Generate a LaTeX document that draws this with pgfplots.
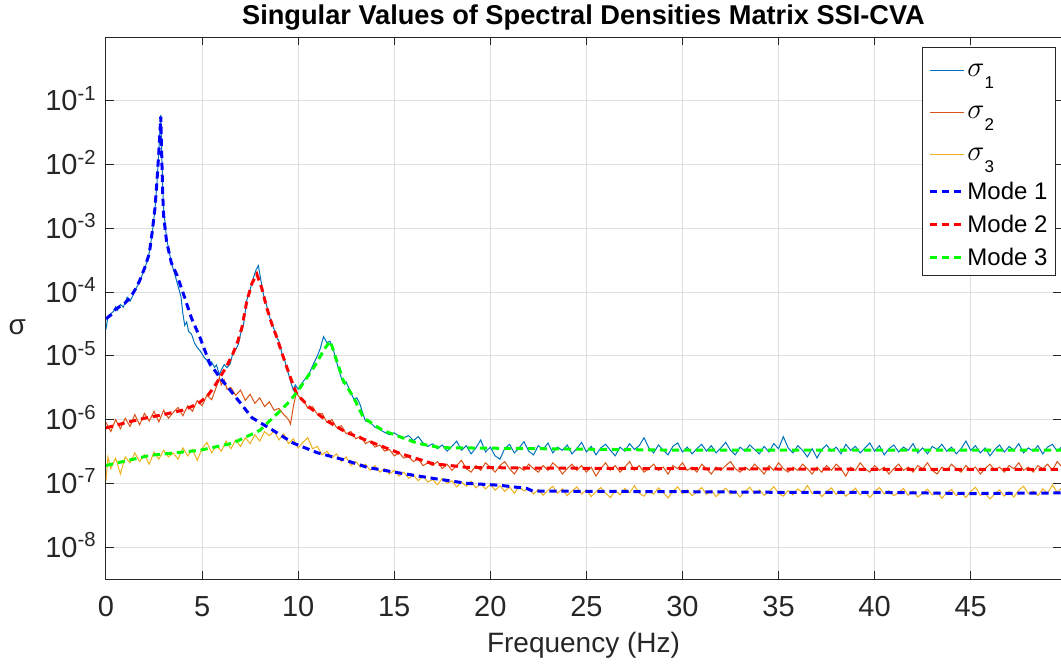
\documentclass[border=0pt]{standalone}
\usepackage{fontspec}
\setmainfont{Liberation Sans}
\usepackage{pgfplots}
\pgfplotsset{compat=1.18}
\usepackage{pgfplotstable}
\definecolor{mblue}{rgb}{0,0.447,0.741}
\definecolor{morange}{rgb}{0.85,0.325,0.098}
\definecolor{myellow}{rgb}{0.929,0.694,0.125}
\definecolor{axgray}{rgb}{0.15,0.15,0.15}
\definecolor{gridgray}{rgb}{0.875,0.875,0.875}
\newcommand{\sigent}[1]{\rule[-7.5pt]{0pt}{21pt}{\fontsize{14.5}{14.5}\selectfont$\sigma$}\raisebox{-6.2pt}{\fontsize{8.5}{10}\selectfont #1}}
\newcommand{\modeent}[1]{\rule[-4.25pt]{0pt}{16.5pt}Mode #1}

\pgfplotstableread{
f v
0 2.6e-5
0.1 4.2e-5
0.25 4.6e-5
0.4 5.0e-5
0.5 5.9e-5
0.6 5.2e-5
0.75 6.4e-5
0.9 5.8e-5
1.0 6.9e-5
1.1 8.3e-5
1.25 7.2e-5
1.4 8.8e-5
1.5 1.05e-4
1.75 1.45e-4
2.0 2.3e-4
2.2 3.4e-4
2.4 8.0e-4
2.55 2.0e-3
2.65 5.0e-3
2.75 1.6e-2
2.85 6.0e-2
2.95 4.5e-3
3.0 2.0e-3
3.15 7.0e-4
3.4 2.9e-4
3.65 1.6e-4
3.9 8.5e-5
4.0 4.6e-5
4.1 3.0e-5
4.2 3.4e-5
4.3 2.4e-5
4.45 2.2e-5
4.6 1.6e-5
4.75 1.35e-5
4.9 1.2e-5
5.1 9.5e-6
5.25 8.5e-6
5.4 7.0e-6
5.5 8.0e-6
5.65 6.6e-6
5.75 7.2e-6
5.9 5.0e-6
6.0 6.0e-6
6.15 7.3e-6
6.3 6.5e-6
6.46 7.5e-6
6.6 1.1e-5
6.75 1.25e-5
6.9 1.55e-5
7.0 2.2e-5
7.15 3.0e-5
7.33 7.5e-5
7.5 1.1e-4
7.65 1.6e-4
7.8 2.2e-4
7.93 2.6e-4
8.05 1.6e-4
8.2 9.0e-5
8.37 6.0e-5
8.5 4.2e-5
8.63 3.2e-5
8.75 2.6e-5
8.9 1.9e-5
9.0 1.7e-5
9.15 1.1e-5
9.3 8.5e-6
9.4 6.5e-6
9.5 5.2e-6
9.6 4.0e-6
9.75 2.9e-6
9.85 3.5e-6
10.0 3.0e-6
10.1 3.4e-6
10.25 3.9e-6
10.4 4.5e-6
10.6 5.5e-6
10.8 7.5e-6
11.0 1.0e-5
11.15 1.3e-5
11.32 2.0e-5
11.5 1.6e-5
11.65 1.7e-5
11.8 1.35e-5
12.0 8.0e-6
12.2 5.0e-6
12.35 3.7e-6
12.5 3.9e-6
12.7 2.8e-6
12.9 2.1e-6
13.05 2.2e-6
13.2 1.8e-6
13.35 1.3e-6
13.5 9.5e-7
13.75 9.0e-7
14.0 7.6e-7
14.25 7.0e-7
14.5 6.3e-7
14.75 5.8e-7
15.0 6.2e-7
15.25 5.5e-7
15.5 5.2e-7
15.75 5.6e-7
16.0 4.7e-7
16.25 5.4e-7
16.5 4.3e-7
16.75 3.8e-7
17.0 4.2e-7
}\sone

\pgfplotstableread{
f v
0 9.0e-7
0.25 6.5e-7
0.5 1.0e-6
0.75 7.2e-7
1.0 1.05e-6
1.25 7.8e-7
1.5 1.2e-6
1.75 8.3e-7
2.0 1.25e-6
2.25 9.5e-7
2.5 1.35e-6
2.75 9.2e-7
3.0 1.4e-6
3.25 1.05e-6
3.5 1.3e-6
3.75 1.55e-6
4.0 1.15e-6
4.25 1.65e-6
4.5 1.35e-6
4.75 2.0e-6
5.0 1.65e-6
5.25 2.4e-6
5.5 2.05e-6
5.75 3.3e-6
5.9 4.6e-6
6.0 3.5e-6
6.15 4.2e-6
6.3 3.0e-6
6.5 3.2e-6
6.75 2.4e-6
7.0 2.9e-6
7.25 2.0e-6
7.5 2.5e-6
7.75 1.8e-6
8.0 2.2e-6
8.25 1.6e-6
8.5 1.9e-6
8.75 1.4e-6
9.0 1.5e-6
9.25 1.2e-6
9.5 1.0e-6
9.6 8.5e-7
9.75 1.6e-6
9.9 2.6e-6
10.1 2.2e-6
10.3 2.0e-6
10.5 1.5e-6
10.75 1.6e-6
11.0 1.2e-6
11.25 1.25e-6
11.5 9.0e-7
11.75 1.0e-6
12.0 7.5e-7
12.25 8.0e-7
12.5 6.0e-7
12.75 6.5e-7
13.0 5.0e-7
13.25 5.5e-7
13.5 4.2e-7
13.75 4.6e-7
14.0 3.7e-7
14.25 4.0e-7
14.5 3.2e-7
14.75 3.4e-7
15.0 2.7e-7
15.25 3.0e-7
15.5 2.5e-7
15.75 2.6e-7
16.0 2.2e-7
16.25 2.4e-7
16.5 1.9e-7
16.75 2.1e-7
17.0 1.9e-7
}\stwo

\pgfplotstableread{
f v
0 1.1e-7
0.1 2.6e-7
0.25 1.7e-7
0.5 2.5e-7
0.75 1.4e-7
1.0 2.6e-7
1.25 2.1e-7
1.5 3.0e-7
1.75 2.2e-7
2.0 2.8e-7
2.25 2.0e-7
2.5 3.1e-7
2.75 2.4e-7
3.0 3.3e-7
3.25 2.6e-7
3.5 3.0e-7
3.75 2.4e-7
4.0 3.6e-7
4.25 2.7e-7
4.5 3.4e-7
4.75 2.3e-7
5.0 3.5e-7
5.25 4.4e-7
5.5 3.0e-7
5.75 3.9e-7
6.0 3.2e-7
6.25 4.6e-7
6.5 3.5e-7
6.75 4.8e-7
7.0 3.8e-7
7.25 5.2e-7
7.5 4.2e-7
7.75 5.8e-7
8.0 4.6e-7
8.25 6.5e-7
8.5 5.6e-7
8.75 6.6e-7
9.0 4.8e-7
9.25 6.0e-7
9.5 4.2e-7
9.75 5.0e-7
10.0 3.6e-7
10.25 4.4e-7
10.5 5.2e-7
10.75 3.5e-7
11.0 3.8e-7
11.25 2.8e-7
11.5 3.2e-7
11.75 2.5e-7
12.0 2.9e-7
12.25 2.2e-7
12.5 2.6e-7
12.75 1.9e-7
13.0 2.2e-7
13.25 1.8e-7
13.5 2.0e-7
13.75 1.6e-7
14.0 1.9e-7
14.25 1.5e-7
14.5 1.7e-7
14.75 1.4e-7
15.0 1.6e-7
15.25 1.3e-7
15.5 1.5e-7
15.75 1.2e-7
16.0 1.35e-7
16.25 1.1e-7
16.5 1.3e-7
16.75 1.05e-7
17.0 1.15e-7
}\sthree

\pgfplotstableread{
f s1 s2 s3
17.0 4.2e-7 1.9e-7 1.15e-7
17.25 3.5e-7 2.2e-7 9.5e-8
17.5 4.0e-7 1.7e-7 1.2e-7
17.75 3.2e-7 2.0e-7 1.0e-7
18.0 3.8e-7 1.6e-7 1.1e-7
18.25 4.6e-7 1.9e-7 8.8e-8
18.5 3.3e-7 2.3e-7 1.05e-7
18.75 3.9e-7 1.7e-7 9.0e-8
19.0 2.9e-7 1.5e-7 1.08e-7
19.25 3.6e-7 1.9e-7 8.5e-8
19.5 4.8e-7 1.6e-7 9.8e-8
19.75 3.1e-7 2.1e-7 8.2e-8
20.0 3.7e-7 1.8e-7 9.6e-8
20.25 2.7e-7 1.5e-7 7.8e-8
20.5 2.4e-7 1.9e-7 9.2e-8
20.75 3.5e-7 2.2e-7 7.5e-8
21.0 4.1e-7 1.7e-7 8.8e-8
21.25 3.0e-7 1.4e-7 7.0e-8
21.5 3.6e-7 1.8e-7 9.0e-8
21.75 4.5e-7 1.6e-7 7.6e-8
22.0 3.2e-7 2.0e-7 8.4e-8
22.25 2.8e-7 1.7e-7 6.8e-8
22.5 3.9e-7 1.5e-7 8.0e-8
22.75 3.4e-7 1.9e-7 6.5e-8
23.0 4.3e-7 1.6e-7 7.8e-8
23.25 3.0e-7 2.1e-7 9.0e-8
23.5 3.7e-7 1.8e-7 7.0e-8
23.75 3.3e-7 1.4e-7 8.2e-8
24.0 4.0e-7 1.7e-7 6.4e-8
24.25 2.9e-7 2.0e-7 7.6e-8
24.5 3.5e-7 1.6e-7 8.8e-8
24.75 4.4e-7 1.9e-7 6.8e-8
25.0 3.1e-7 1.5e-7 7.9e-8
25.25 3.8e-7 1.8e-7 6.2e-8
25.5 2.8e-7 1.3e-7 7.4e-8
25.75 3.6e-7 1.7e-7 8.6e-8
26.0 4.1e-7 2.1e-7 7.0e-8
26.25 3.3e-7 1.6e-7 6.0e-8
26.5 2.7e-7 1.9e-7 7.8e-8
26.75 3.7e-7 1.5e-7 6.6e-8
27.0 3.2e-7 1.8e-7 8.3e-8
27.25 4.2e-7 2.2e-7 7.1e-8
27.5 3.4e-7 1.6e-7 9.2e-8
27.75 3.9e-7 1.9e-7 7.0e-8
28.0 5.2e-7 1.5e-7 6.3e-8
28.25 3.6e-7 1.7e-7 7.7e-8
28.5 3.0e-7 2.0e-7 6.8e-8
28.75 4.0e-7 1.6e-7 8.5e-8
29.0 3.3e-7 1.8e-7 7.2e-8
29.25 2.8e-7 1.4e-7 5.9e-8
29.5 3.8e-7 1.9e-7 7.6e-8
29.75 4.3e-7 1.7e-7 8.8e-8
30.0 3.1e-7 2.1e-7 6.9e-8
30.25 3.7e-7 1.6e-7 7.9e-8
30.5 2.9e-7 1.8e-7 6.4e-8
30.75 3.5e-7 1.5e-7 7.4e-8
31.0 4.1e-7 2.0e-7 8.6e-8
31.25 3.2e-7 1.7e-7 6.7e-8
31.5 3.9e-7 1.4e-7 7.8e-8
31.75 3.0e-7 1.8e-7 6.2e-8
32.0 3.6e-7 1.6e-7 7.3e-8
32.25 4.4e-7 1.9e-7 8.4e-8
32.5 3.3e-7 2.2e-7 6.8e-8
32.75 2.8e-7 1.7e-7 7.6e-8
33.0 3.7e-7 1.5e-7 6.1e-8
33.25 3.2e-7 1.8e-7 7.5e-8
33.5 4.0e-7 1.6e-7 8.7e-8
33.75 3.4e-7 2.0e-7 6.9e-8
34.0 2.9e-7 1.7e-7 7.9e-8
34.25 3.8e-7 1.4e-7 6.5e-8
34.5 3.1e-7 1.9e-7 7.3e-8
34.75 4.2e-7 1.6e-7 8.9e-8
35.0 3.5e-7 2.1e-7 7.0e-8
35.25 5.4e-7 1.7e-7 6.3e-8
35.5 3.6e-7 1.5e-7 7.7e-8
35.75 3.0e-7 1.8e-7 6.6e-8
36.0 3.9e-7 1.6e-7 8.2e-8
36.25 3.3e-7 2.0e-7 7.1e-8
36.5 2.6e-7 1.7e-7 9.3e-8
36.75 3.5e-7 1.4e-7 6.9e-8
37.0 2.5e-7 1.8e-7 7.6e-8
37.25 3.4e-7 1.5e-7 6.2e-8
37.5 4.0e-7 1.9e-7 7.4e-8
37.75 3.2e-7 1.6e-7 8.5e-8
38.0 3.7e-7 2.0e-7 6.7e-8
38.25 2.9e-7 1.7e-7 7.8e-8
38.5 4.1e-7 1.3e-7 6.3e-8
38.75 3.3e-7 1.8e-7 7.2e-8
39.0 3.8e-7 1.6e-7 8.4e-8
39.25 3.0e-7 2.1e-7 6.6e-8
39.5 3.6e-7 1.7e-7 7.5e-8
39.75 4.3e-7 1.5e-7 6.0e-8
40.0 3.2e-7 1.9e-7 7.3e-8
40.25 3.9e-7 1.6e-7 8.6e-8
40.5 2.8e-7 1.8e-7 6.8e-8
40.75 3.5e-7 1.4e-7 7.7e-8
41.0 4.0e-7 1.7e-7 6.4e-8
41.25 3.1e-7 2.0e-7 7.2e-8
41.5 3.7e-7 1.6e-7 8.3e-8
41.75 3.3e-7 1.8e-7 6.5e-8
42.0 4.2e-7 1.5e-7 7.6e-8
42.25 3.0e-7 1.9e-7 6.1e-8
42.5 3.6e-7 1.7e-7 7.0e-8
42.75 2.9e-7 2.1e-7 8.1e-8
43.0 3.8e-7 1.6e-7 6.6e-8
43.25 3.4e-7 1.4e-7 7.4e-8
43.5 4.1e-7 1.8e-7 5.8e-8
43.75 3.2e-7 1.6e-7 7.1e-8
44.0 3.7e-7 2.0e-7 8.0e-8
44.25 2.9e-7 1.7e-7 6.4e-8
44.5 3.5e-7 1.5e-7 7.2e-8
44.75 4.6e-7 1.9e-7 6.0e-8
45.0 3.3e-7 1.6e-7 7.5e-8
45.25 3.9e-7 1.8e-7 8.7e-8
45.5 3.0e-7 1.4e-7 6.5e-8
45.75 3.6e-7 1.7e-7 7.0e-8
46.0 2.7e-7 2.0e-7 5.7e-8
46.25 3.4e-7 1.6e-7 6.8e-8
46.5 4.0e-7 1.8e-7 7.9e-8
46.75 3.1e-7 1.5e-7 6.3e-8
47.0 3.8e-7 1.9e-7 7.4e-8
47.25 3.3e-7 1.7e-7 6.1e-8
47.5 4.2e-7 2.1e-7 7.8e-8
47.75 3.0e-7 1.6e-7 9.0e-8
48.0 3.6e-7 1.8e-7 6.9e-8
48.25 3.2e-7 1.5e-7 7.6e-8
48.5 3.9e-7 1.9e-7 6.4e-8
48.75 2.9e-7 1.7e-7 8.2e-8
49.0 3.7e-7 2.0e-7 7.0e-8
49.25 4.1e-7 1.6e-7 9.4e-8
49.5 3.2e-7 2.2e-7 7.3e-8
49.75 3.8e-7 1.8e-7 8.5e-8
}\splat

\pgfplotstableread{
f v
0 3.8e-5
0.25 4.37e-5
0.5 5.37e-5
0.75 6.03e-5
1.0 6.76e-5
1.25 8.13e-5
1.5 1.07e-4
1.75 1.51e-4
2.0 2.34e-4
2.25 3.98e-4
2.4 8.51e-4
2.55 2.09e-3
2.65 5.37e-3
2.75 1.58e-2
2.85 5.62e-2
2.95 3.55e-3
3.0 1.58e-3
3.15 6.31e-4
3.4 2.88e-4
3.7 1.82e-4
4.1 8.13e-5
4.45 3.89e-5
4.9 1.91e-5
5.4 7.59e-6
5.9 4.68e-6
6.6 2.57e-6
7.6 1.07e-6
8.7 6.76e-7
9.75 4.27e-7
11 3.02e-7
12.5 2.29e-7
13.6 1.78e-7
15.3 1.45e-7
17 1.2e-7
18.8 1.0e-7
20.5 9.33e-8
21.9 8.32e-8
22.2 7.59e-8
25 7.5e-8
30 7.41e-8
35 7.24e-8
40 7.24e-8
45 6.92e-8
49.75 7.08e-8
}\mone

\pgfplotstableread{
f v
0 7.41e-7
1 8.91e-7
2 1.05e-6
3 1.2e-6
4 1.41e-6
4.75 1.74e-6
5.25 2.29e-6
5.6 3.16e-6
5.95 4.68e-6
6.3 7.08e-6
6.6 1.07e-5
6.85 1.66e-5
7.07 2.75e-5
7.33 7.24e-5
7.6 1.38e-4
7.85 1.91e-4
8.1 1.17e-4
8.37 5.62e-5
8.63 3.16e-5
8.89 1.95e-5
9.15 1.12e-5
9.41 6.61e-6
9.67 3.98e-6
9.93 2.51e-6
10.6 1.55e-6
11.5 9.55e-7
12.5 6.31e-7
13.6 4.68e-7
15.3 2.95e-7
17 2.04e-7
18.8 1.78e-7
22 1.74e-7
30 1.70e-7
40 1.66e-7
49.75 1.66e-7
}\mtwo

\pgfplotstableread{
f v
0 1.91e-7
2.3 2.75e-7
4.9 3.31e-7
6.6 4.27e-7
8.0 6.76e-7
8.9 1.23e-6
9.6 2.0e-6
10.1 3.16e-6
10.8 6.46e-6
11.4 1.32e-5
11.67 1.7e-5
12.0 8.5e-6
12.35 4.07e-6
12.9 2.19e-6
13.4 1.07e-6
14.4 6.76e-7
16.2 4.27e-7
17.4 3.63e-7
20.5 3.55e-7
30 3.31e-7
49.75 3.31e-7
}\mthree

\begin{document}
\begin{tikzpicture}
\begin{axis}[
  at={(0pt,0pt)}, anchor=south west,
  scale only axis, width=477.5pt, height=271pt,
  xmin=0, xmax=49.7,
  ymode=log, ymin=3.1623e-9, ymax=1,
  xtick={0,5,10,15,20,25,30,35,40,45},
  xticklabels={0,5,10,15,20,25,30,35,40,45},
  ytick={1e-8,1e-7,1e-6,1e-5,1e-4,1e-3,1e-2,1e-1},
  yticklabels={10\textsuperscript{-8},10\textsuperscript{-7},10\textsuperscript{-6},10\textsuperscript{-5},10\textsuperscript{-4},10\textsuperscript{-3},10\textsuperscript{-2},10\textsuperscript{-1}},
  yminorticks=false,
  grid=major,
  major grid style={gridgray, line width=0.5pt},
  axis line style={axgray, line width=0.5pt},
  every tick/.style={axgray, line width=0.5pt},
  major tick length=4pt,
  tick align=inside,
  tick label style={font=\fontsize{14.5}{17}\selectfont, text=axgray},
  xticklabel style={anchor=base, yshift=-18.8pt},
  yticklabel style={anchor=base east, inner sep=0pt, xshift=-4.5pt, yshift=-5pt},
  title={Singular Values of Spectral Densities Matrix SSI-CVA},
  every axis title/.style={at={(0.5,1)}, anchor=base, yshift=6.5pt, font=\bfseries\fontsize{13.6}{16}\selectfont},
  xlabel={Frequency (Hz)},
  every axis x label/.style={at={(0.5,0)}, anchor=base, yshift=-36.9pt, font=\fontsize{14}{16}\selectfont, text=axgray},
  ylabel={σ},
  every axis y label/.style={at={(-0.093,0.465)}, anchor=center, font=\fontsize{14}{16}\selectfont, text=axgray},
  legend cell align=left,
  legend style={at={(1,1)}, anchor=north east, xshift=-2.5pt, yshift=-5pt,
    draw=axgray, line width=0.5pt, fill=white,
    inner xsep=3pt, inner ysep=0.75pt, column sep=0pt, row sep=0pt,
    nodes={inner xsep=1pt, inner ysep=0pt, text depth=},
    font=\fontsize{12}{14}\selectfont, text=black},
]
\addplot[mblue, line width=0.5pt] table[x=f,y=v] {\sone};
\addlegendentry{\sigent{1}}
\addplot[mblue, line width=0.5pt, forget plot] table[x=f,y=s1] {\splat};
\addplot[morange, line width=0.5pt] table[x=f,y=v] {\stwo};
\addlegendentry{\sigent{2}}
\addplot[morange, line width=0.5pt, forget plot] table[x=f,y=s2] {\splat};
\addplot[myellow, line width=0.5pt] table[x=f,y=v] {\sthree};
\addlegendentry{\sigent{3}}
\addplot[myellow, line width=0.5pt, forget plot] table[x=f,y=s3] {\splat};
\addplot[blue, line width=1.5pt, dash pattern=on 3.6pt off 2.4pt] table[x=f,y=v] {\mone};
\addlegendentry{\modeent{1}}
\addplot[red, line width=1.5pt, dash pattern=on 3.6pt off 2.4pt] table[x=f,y=v] {\mtwo};
\addlegendentry{\modeent{2}}
\addplot[green, line width=1.5pt, dash pattern=on 3.6pt off 2.4pt] table[x=f,y=v] {\mthree};
\addlegendentry{\modeent{3}}
\end{axis}
\pgfresetboundingbox
\path (-53pt,-43.5pt) rectangle (477.5pt,289.5pt);
\end{tikzpicture}
\end{document}
